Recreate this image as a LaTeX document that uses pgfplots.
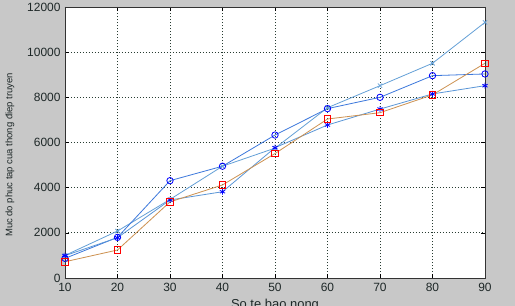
\documentclass[border=0pt]{standalone}
\usepackage{pgfplots}
\pgfplotsset{compat=1.18}
\usepackage{fontspec}
\setmainfont{Liberation Sans}
\definecolor{bggray}{RGB}{200,200,200}
\definecolor{txt}{RGB}{30,40,40}
\definecolor{gridc}{RGB}{40,60,50}
\definecolor{lxblue}{RGB}{100,160,215}
\definecolor{lcblue}{RGB}{60,120,220}
\definecolor{lsblue}{RGB}{90,150,215}
\definecolor{lorange}{RGB}{205,145,80}
\begin{document}
\begin{tikzpicture}
\fill[bggray] (-65bp,-28bp) rectangle (450bp,278bp);
\begin{axis}[
  at={(0,0)}, anchor=south west,
  scale only axis, width=420bp, height=271bp,
  xmin=10, xmax=90, ymin=0, ymax=12000,
  xtick={10,20,...,90}, ytick={0,2000,...,12000},
  scaled y ticks=false,
  yticklabel style={/pgf/number format/fixed, /pgf/number format/1000 sep={}, xshift=-1bp},
  xticklabel style={yshift=-1.5bp},
  /pgf/number format/assume math mode=true,
  tick label style={font=\fontsize{12}{14}\selectfont, text=txt},
  tick align=inside, major tick length=4bp,
  tick style={color=black, line width=0.6bp},
  axis line style={color=black!80, line width=0.8bp},
  axis background/.style={fill=white},
  grid=major,
  major grid style={color=gridc, dash pattern=on 1.5bp off 1.5bp, line width=0.7bp},
  xlabel={So te bao nong},
  ylabel={Muc do phuc tap cua thong điep truyen},
  xlabel style={font=\fontsize{13}{15}\selectfont, text=txt, at={(axis description cs:0.5,-0.066)}, anchor=north},
  ylabel style={font=\fontsize{9.5}{11}\selectfont, text=txt, at={(axis description cs:-0.131,0.454)}, anchor=center},
  every axis plot/.append style={line width=0.8bp, mark options={solid, line width=0.8bp}},
]
\addplot[color=lxblue, mark=x, mark size=3bp, mark options={color=lxblue}] coordinates {
  (10,1000) (20,2080) (30,3480) (40,4950) (50,5750) (60,7540) (70,8516) (80,9508) (90,11320)};
\addplot[color=lcblue, mark=o, mark size=3.2bp, mark options={color=blue}] coordinates {
  (10,870) (20,1800) (30,4310) (40,4950) (50,6330) (60,7500) (70,8000) (80,8960) (90,9035)};
\addplot[color=lsblue, mark=asterisk, mark size=3bp, mark options={color=blue}] coordinates {
  (10,990) (20,1785) (30,3455) (40,3820) (50,5770) (60,6775) (70,7480) (80,8150) (90,8516)};
\addplot[color=lorange, mark=square, mark size=3.2bp, mark options={color=red}] coordinates {
  (10,720) (20,1240) (30,3370) (40,4120) (50,5510) (60,7040) (70,7320) (80,8110) (90,9508)};
\end{axis}
\pgfresetboundingbox
\path[use as bounding box] (-65bp,-28bp) rectangle (450bp,278bp);
\end{tikzpicture}
\end{document}
